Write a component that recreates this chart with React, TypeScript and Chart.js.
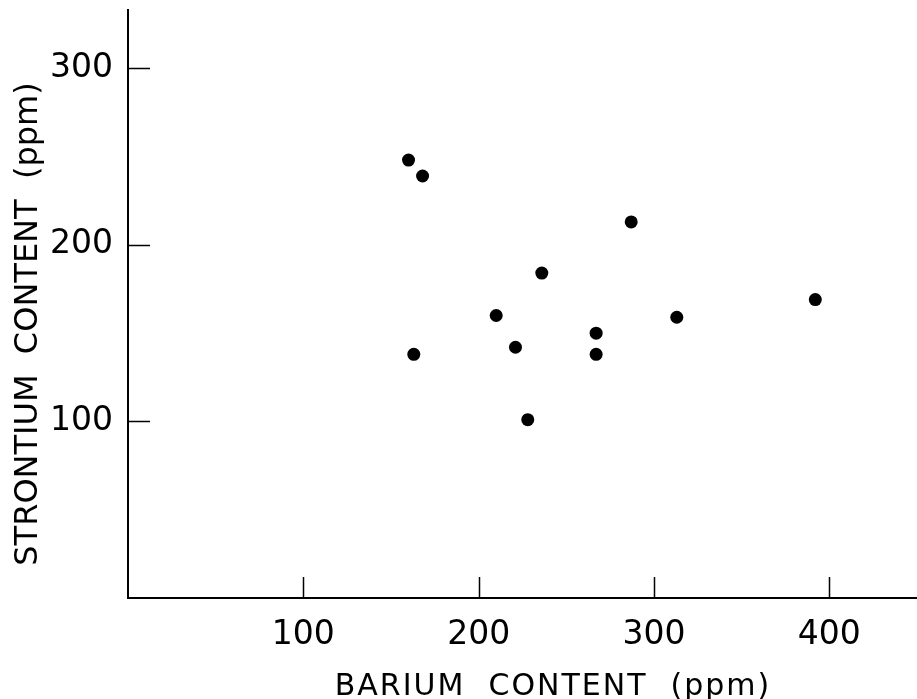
import React, { useEffect, useRef } from "react";
import { Chart, registerables } from "chart.js";

Chart.register(...registerables);

const bariumPpm = [160, 168, 287, 236, 210, 313, 267, 221, 163, 267, 228, 392];
const strontiumPpm = [248, 239, 213, 184, 160, 159, 150, 142, 138, 138, 101, 169];
const xTickValues = [100, 200, 300, 400];
const yTickValues = [100, 200, 300];
const xTitle = "BARIUM  CONTENT  (ppm)";
const yTitle = "STRONTIUM  CONTENT  (ppm)";

const inwardTicksAndTitles = {
  id: "inwardTicksAndTitles",
  afterDraw(chart: any) {
    const { ctx, chartArea } = chart;
    const xs = chart.scales.x;
    const ys = chart.scales.y;
    ctx.save();
    ctx.strokeStyle = "#000";
    ctx.lineWidth = 1.5;
    ctx.beginPath();
    for (const v of xTickValues) {
      const px = Math.round(xs.getPixelForValue(v)) + 0.5;
      ctx.moveTo(px, chartArea.bottom);
      ctx.lineTo(px, chartArea.bottom - 21);
    }
    for (const v of yTickValues) {
      const py = Math.round(ys.getPixelForValue(v)) + 0.5;
      ctx.moveTo(chartArea.left, py);
      ctx.lineTo(chartArea.left + 22, py);
    }
    ctx.stroke();

    ctx.fillStyle = "#000";
    ctx.textAlign = "center";
    ctx.textBaseline = "alphabetic";
    ctx.font = '30px "DejaVu Sans"';
    (ctx as any).letterSpacing = "2px";
    ctx.fillText(xTitle, 553, 695);

    (ctx as any).letterSpacing = "0px";
    ctx.translate(37, 324);
    ctx.rotate(-Math.PI / 2);
    ctx.font = '32px "DejaVu Sans"';
    ctx.fillText(yTitle, 0, 0);
    ctx.restore();
  },
};

function noEdgePadding(s: any) {
  s.paddingTop = 0;
  s.paddingBottom = 0;
  s.paddingLeft = 0;
  s.paddingRight = 0;
}

export default function App() {
  const canvasRef = useRef<HTMLCanvasElement | null>(null);

  useEffect(() => {
    const canvas = canvasRef.current;
    if (!canvas) return;
    const points = bariumPpm.map((x, i) => ({ x, y: strontiumPpm[i] }));
    const chart = new Chart(canvas, {
      type: "scatter",
      data: {
        datasets: [
          {
            data: points,
            backgroundColor: "#000",
            borderColor: "#000",
            pointRadius: 6.5,
            pointHoverRadius: 6.5,
            pointBorderWidth: 0,
          },
        ],
      },
      options: {
        responsive: false,
        animation: false,
        devicePixelRatio: 1,
        layout: { autoPadding: false, padding: { top: 10, right: 0, left: 0, bottom: 0 } },
        plugins: { legend: { display: false }, tooltip: { enabled: false } },
        scales: {
          x: {
            type: "linear",
            min: 0,
            max: 450,
            afterFit(s: any) {
              s.height = 101;
              noEdgePadding(s);
            },
            afterBuildTicks(s: any) {
              s.ticks = xTickValues.map((v) => ({ value: v }));
            },
            grid: { display: true, drawOnChartArea: false, drawTicks: false },
            border: { display: true, color: "#000", width: 2 },
            ticks: {
              color: "#000",
              font: { family: "DejaVu Sans", size: 33 },
              padding: 18,
              maxRotation: 0,
              autoSkip: false,
            },
          },
          y: {
            type: "linear",
            min: 0,
            max: 333,
            afterFit(s: any) {
              s.width = 128;
              noEdgePadding(s);
            },
            afterBuildTicks(s: any) {
              s.ticks = yTickValues.map((v) => ({ value: v }));
            },
            grid: { display: true, drawOnChartArea: false, drawTicks: false },
            border: { display: true, color: "#000", width: 2 },
            ticks: {
              color: "#000",
              font: { family: "DejaVu Sans", size: 33 },
              padding: 15,
              autoSkip: false,
            },
          },
        },
      },
      plugins: [inwardTicksAndTitles],
    });
    return () => chart.destroy();
  }, []);

  return (
    <div style={{ position: "fixed", left: 0, top: 0, width: 917, height: 699, background: "#fff" }}>
      <canvas ref={canvasRef} width={917} height={699} style={{ display: "block", width: 917, height: 699 }} />
    </div>
  );
}
